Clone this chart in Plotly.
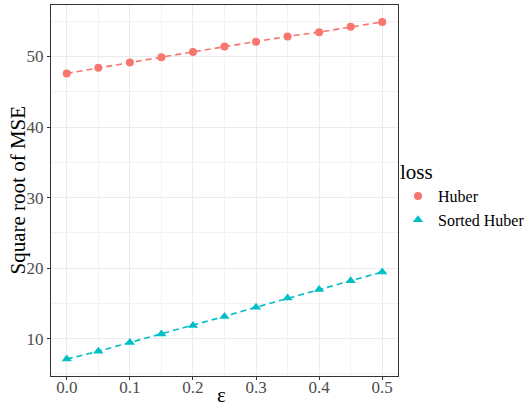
import plotly.graph_objects as go

eps = [0.0, 0.05, 0.1, 0.15, 0.2, 0.25, 0.3, 0.35, 0.4, 0.45, 0.5]
huber = [47.6, 48.4, 49.15, 49.9, 50.65, 51.4, 52.1, 52.85, 53.45, 54.2, 54.9]
sorted_huber = [7.1, 8.2, 9.45, 10.65, 11.85, 13.15, 14.45, 15.75, 16.95, 18.2, 19.45]
x_ticks = [0.0, 0.1, 0.2, 0.3, 0.4, 0.5]
x_ticklabels = ["0.0", "0.1", "0.2", "0.3", "0.4", "0.5"]
y_ticks = [10, 20, 30, 40, 50]

RED = "#F8766D"
CYAN = "#00BFC4"
SERIF = "Liberation Serif"

fig = go.Figure()

for name, vals, col, sym, msize in [("Huber", huber, RED, "circle", 8),
                                    ("Sorted Huber", sorted_huber, CYAN, "triangle-up", 9)]:
    fig.add_trace(go.Scatter(x=eps, y=vals, mode="lines+markers", name=name,
                             line=dict(color=col, width=1.6, dash="6px,4px"),
                             marker=dict(color=col, symbol=sym, size=msize),
                             showlegend=False))
    fig.add_trace(go.Scatter(x=[None], y=[None], mode="markers", name=name,
                             marker=dict(color=col, symbol=sym, size=msize),
                             showlegend=True))

axis_common = dict(showline=True, mirror=True, linecolor="#333333", linewidth=1,
                   showgrid=True, gridcolor="#EBEBEB", gridwidth=1,
                   ticks="outside", ticklen=3, tickcolor="#333333", tickwidth=1,
                   tickfont=dict(family=SERIF, size=17, color="#4D4D4D"),
                   zeroline=False, automargin=False,
                   minor=dict(showgrid=True, gridcolor="#F2F2F2", gridwidth=0.6, ticks=""))

fig.update_xaxes(range=[-0.025, 0.525], tickvals=x_ticks, ticktext=x_ticklabels,
                 minor_dtick=0.05, minor_tick0=0.05, ticklabelstandoff=-7, **axis_common)
fig.update_yaxes(range=[4.7, 57.3], tickvals=y_ticks,
                 minor_dtick=10, minor_tick0=5, **axis_common)

fig.add_annotation(text="ε", xref="paper", yref="paper", x=0.5, y=0, yshift=-19, xshift=-3,
                   xanchor="center", yanchor="middle", showarrow=False,
                   font=dict(family=SERIF, size=21, color="black"))
fig.add_annotation(text="Square root of MSE", xref="paper", yref="paper", x=0, y=0.5,
                   xshift=-34, textangle=-90, xanchor="center", yanchor="middle",
                   showarrow=False, font=dict(family=SERIF, size=21, color="black"))

fig.update_layout(width=529, height=409,
                  margin=dict(l=51, r=131, t=5, b=33, autoexpand=False),
                  paper_bgcolor="white", plot_bgcolor="white",
                  font=dict(family=SERIF),
                  legend=dict(title=dict(text="loss", font=dict(family=SERIF, size=21, color="black")),
                              font=dict(family=SERIF, size=16, color="black"),
                              x=1.0, xanchor="left", y=0.49, yanchor="middle",
                              itemsizing="trace", tracegroupgap=0,
                              bgcolor="rgba(0,0,0,0)"))

fig.write_html("out.html", config={"displayModeBar": False},
               post_script="document.body.style.margin='0';document.body.style.overflow='hidden';")
